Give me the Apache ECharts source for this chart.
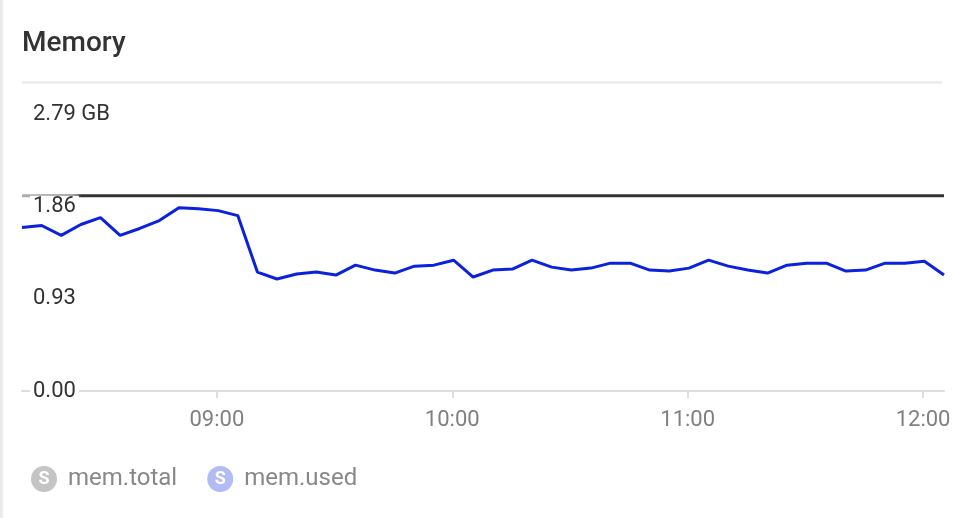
<!DOCTYPE html>
<html><head><meta charset="utf-8">
<script src="https://cdn.jsdelivr.net/npm/echarts@6/dist/echarts.min.js"></script>
<style>html,body{margin:0;padding:0;background:#fff}#c{width:958px;height:518px}</style>
</head><body><div id="c"></div>
<script>
const titleText = 'Memory';
const seriesNames = ['mem.total', 'mem.used'];
const times = ['08:10:20','08:15:20','08:20:20','08:25:20','08:30:20','08:35:20','08:40:20','08:45:20','08:50:20','08:55:20',
  '09:00:20','09:05:20','09:10:20','09:15:20','09:20:20','09:25:20','09:30:20','09:35:20','09:40:20','09:45:20','09:50:20','09:55:20',
  '10:00:20','10:05:20','10:10:20','10:15:20','10:20:20','10:25:20','10:30:20','10:35:20','10:40:20','10:45:20','10:50:20','10:55:20',
  '11:00:20','11:05:20','11:10:20','11:15:20','11:20:20','11:25:20','11:30:20','11:35:20','11:40:20','11:45:20','11:50:20','11:55:20',
  '12:00:20','12:05:20'];
const usedValues = [1.65,1.67,1.57,1.68,1.75,1.57,1.64,1.72,1.85,1.84,
  1.82,1.77,1.20,1.13,1.18,1.20,1.17,1.27,1.22,1.19,1.26,1.27,
  1.32,1.15,1.22,1.23,1.32,1.25,1.22,1.24,1.29,1.29,1.22,1.21,
  1.24,1.32,1.26,1.22,1.19,1.27,1.29,1.29,1.21,1.22,1.29,1.29,
  1.31,1.17];
const totalTimes = ['08:10:20', '12:05:20'];
const totalValues = [1.97, 1.97];
const yMin = 0, yMax = 2.79, yInterval = 0.93;
const unitLabel = 'GB';

function ts(s) { const p = s.split(':').map(Number); return new Date(2024, 0, 15, p[0], p[1], p[2]).getTime(); }

const chart = echarts.init(document.getElementById('c'), null, { renderer: 'canvas' });
const font = 'Roboto';
chart.setOption({
  animation: false,
  textStyle: { fontFamily: font },
  title: {
    text: titleText, left: 17, top: 25,
    textStyle: { fontFamily: font, fontSize: 28, fontWeight: 500, color: '#333' }
  },
  graphic: [
    { type: 'rect', shape: { x: 0, y: 0, width: 3, height: 518 }, style: { fill: '#ececec' }, silent: true },
    { type: 'rect', shape: { x: 22, y: 81.5, width: 920, height: 2 }, style: { fill: '#e8e8e8' }, silent: true }
  ],
  grid: { left: 22, right: 14, top: 114.5, bottom: 127, containLabel: false },
  legend: {
    left: 20, top: 461, icon: 'none', itemWidth: 1, itemHeight: 26, itemGap: 24,
    data: seriesNames,
    formatter: function (name) {
      return '{' + (name === seriesNames[0] ? 'a' : 'b') + '|S}{t|' + name + '}';
    },
    textStyle: {
      fontFamily: font,
      rich: {
        a: { width: 26, height: 26, lineHeight: 26, borderRadius: 13, backgroundColor: '#c4c4c4', color: '#fff', fontSize: 18, fontWeight: 'bold', align: 'center', fontFamily: font },
        b: { width: 26, height: 26, lineHeight: 26, borderRadius: 13, backgroundColor: '#b3bbf4', color: '#fff', fontSize: 18, fontWeight: 'bold', align: 'center', fontFamily: font },
        t: { fontSize: 24, color: '#888', padding: [0, 0, 0, 11], fontFamily: font }
      }
    }
  },
  xAxis: {
    type: 'time',
    min: ts(times[0]), max: ts(times[times.length - 1]),
    minInterval: 3600000, maxInterval: 3600000,
    axisLine: { lineStyle: { color: '#dedede', width: 2 } },
    axisTick: { show: true, length: 7, lineStyle: { color: '#dedede', width: 2 } },
    splitLine: { show: false },
    axisLabel: { formatter: '{HH}:{mm}', fontSize: 22, color: '#808080', margin: 18, fontFamily: font, showMinLabel: false, showMaxLabel: false }
  },
  yAxis: {
    type: 'value', min: yMin, max: yMax, interval: yInterval, z: 10,
    axisLine: { show: false }, axisTick: { show: false }, splitLine: { show: false },
    axisLabel: {
      inside: true, margin: 8, fontSize: 22, color: '#333', fontFamily: font,
      backgroundColor: '#fff', padding: [0, 3],
      formatter: function (v) {
        return Math.abs(v - yMax) < 1e-6 ? yMax.toFixed(2) + ' ' + unitLabel : v.toFixed(2);
      }
    }
  },
  series: [
    {
      name: seriesNames[0], type: 'line', showSymbol: false, z: 3,
      data: totalTimes.map((t, i) => [ts(t), totalValues[i]]),
      itemStyle: { color: '#c4c4c4' },
      lineStyle: { width: 3, color: { type: 'linear', x: 0, y: 0, x2: 1, y2: 0, colorStops: [
        { offset: 0, color: '#b0b0b0' }, { offset: 0.057, color: '#909090' }, { offset: 0.067, color: '#333' }, { offset: 1, color: '#333' } ] } }
    },
    {
      name: seriesNames[1], type: 'line', showSymbol: false, z: 2,
      data: times.map((t, i) => [ts(t), usedValues[i]]),
      itemStyle: { color: '#b3bbf4' },
      lineStyle: { width: 3, color: '#0a22dc' }
    }
  ]
});
</script></body></html>
